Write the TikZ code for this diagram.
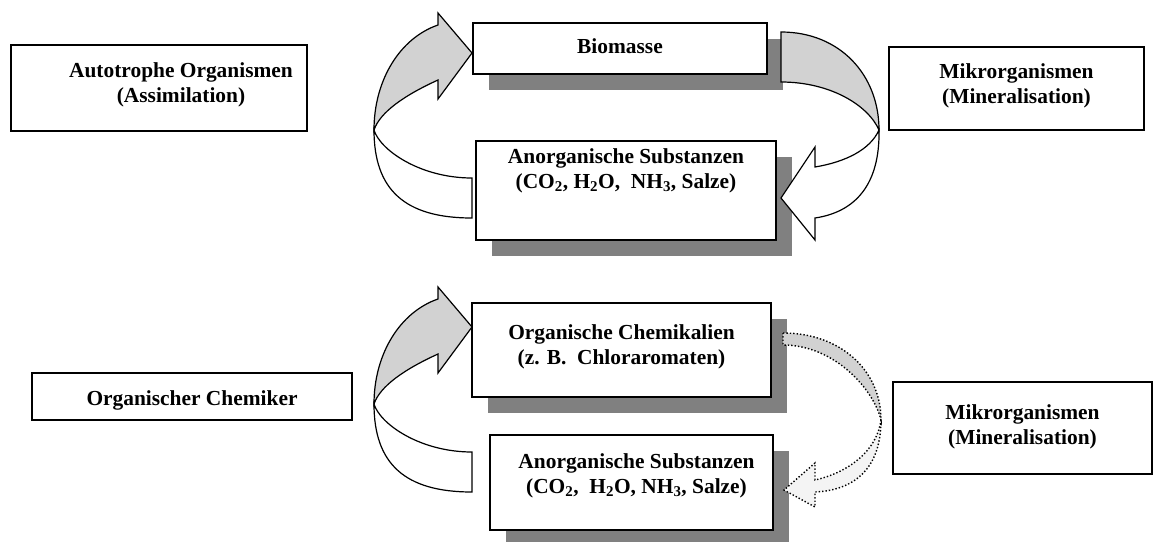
\documentclass[tikz,border=0pt]{standalone}
\usepackage{fontspec}
\setmainfont{Liberation Serif}
\usetikzlibrary{shadows}
\definecolor{shadowgray}{RGB}{128,128,128}
\definecolor{arrowgray}{RGB}{210,210,210}
\definecolor{palegray}{RGB}{244,244,244}
\newcommand{\boxtxt}[5]{\parbox[c][#2][t]{#1}{\centering\leftskip=#4 plus 1fil\vspace*{#3}#5\par}}
\tikzset{
  box/.style={draw, line width=1.3pt, fill=white, inner sep=0pt, outer sep=0pt, anchor=north west,
    font=\fontsize{21.4}{25}\selectfont\bfseries},
  shad/.style={general shadow={fill=shadowgray, shadow xshift=16pt, shadow yshift=-16pt}},
  carrow/.style={draw=black, line width=1.2pt, line join=miter},
  darrow/.style={draw=black, line width=1.4pt, dotted, line join=miter},
}
\begin{document}
\begin{tikzpicture}[x=1pt,y=-1pt]
\useasboundingbox (0,0) rectangle (1155,541);
% boxes
\node[box] (auto) at (11,45) {\boxtxt{296pt}{86pt}{18pt}{44pt}{Autotrophe Organismen\\(Assimilation)}};
\node[box,shad] (bio) at (473,23) {\boxtxt{294pt}{51pt}{16pt}{0pt}{Biomasse}};
\node[box,shad] (anorgA) at (476,141) {\boxtxt{300pt}{99pt}{8pt}{0pt}{Anorganische Substanzen\\(CO\textsubscript{2}, H\textsubscript{2}O,\ \ NH\textsubscript{3}, Salze)}};
\node[box] (mikroA) at (889,47) {\boxtxt{255pt}{83pt}{17pt}{0pt}{Mikrorganismen\\(Mineralisation)}};
\node[box,shad] (chem) at (472,303) {\boxtxt{299pt}{94pt}{22pt}{0pt}{Organische Chemikalien\\(z. B.\ \ Chloraromaten)}};
\node[box,shad] (anorgB) at (490,435) {\boxtxt{283pt}{95pt}{19pt}{10pt}{Anorganische Substanzen\\(CO\textsubscript{2},\ \ H\textsubscript{2}O, NH\textsubscript{3}, Salze)}};
\node[box] (orgchem) at (32,373) {\boxtxt{320pt}{47pt}{18pt}{0pt}{Organischer Chemiker}};
\node[box] (mikroB) at (893,382) {\boxtxt{259pt}{92pt}{23pt}{0pt}{Mikrorganismen\\(Mineralisation)}};
% left curved arrows (anorgA -> bio, anorgB -> chem)
\foreach \dy in {0,274}{
\begin{scope}[shift={(0,\dy)}]
\path[carrow, fill=white] (374,130) .. controls (374,190) and (405,218) .. (472,218)
   -- (472,178) .. controls (420,178) and (380,150) .. cycle;
\path[carrow, fill=arrowgray] (374,130) .. controls (374,80) and (400,38) .. (438,25)
   -- (438,13) -- (472,53) -- (438,99) -- (438,80) .. controls (405,95) and (380,112) .. cycle;
\end{scope}}
% top-right curved arrow (bio -> anorgA)
\path[carrow, fill=arrowgray] (781,32) .. controls (840,32) and (879,75) .. (879,130)
   .. controls (868,105) and (830,82) .. (781,82) -- cycle;
\path[carrow, fill=white] (879,130) .. controls (880,185) and (855,212) .. (815,218)
   -- (815,240) -- (781,198) -- (815,147) -- (815,167) .. controls (845,162) and (870,150) .. cycle;
% dotted arrow (chem -> anorgB)
\path[darrow, fill=arrowgray] (783,333) .. controls (840,333) and (881,370) .. (881,420)
   .. controls (874,390) and (835,345) .. (783,345) -- cycle;
\path[darrow, fill=palegray] (881,420) .. controls (881,465) and (858,490) .. (815,492)
   -- (815,507) -- (784,490) -- (815,463) -- (815,480) .. controls (850,472) and (877,450) .. cycle;
\end{tikzpicture}
\end{document}
